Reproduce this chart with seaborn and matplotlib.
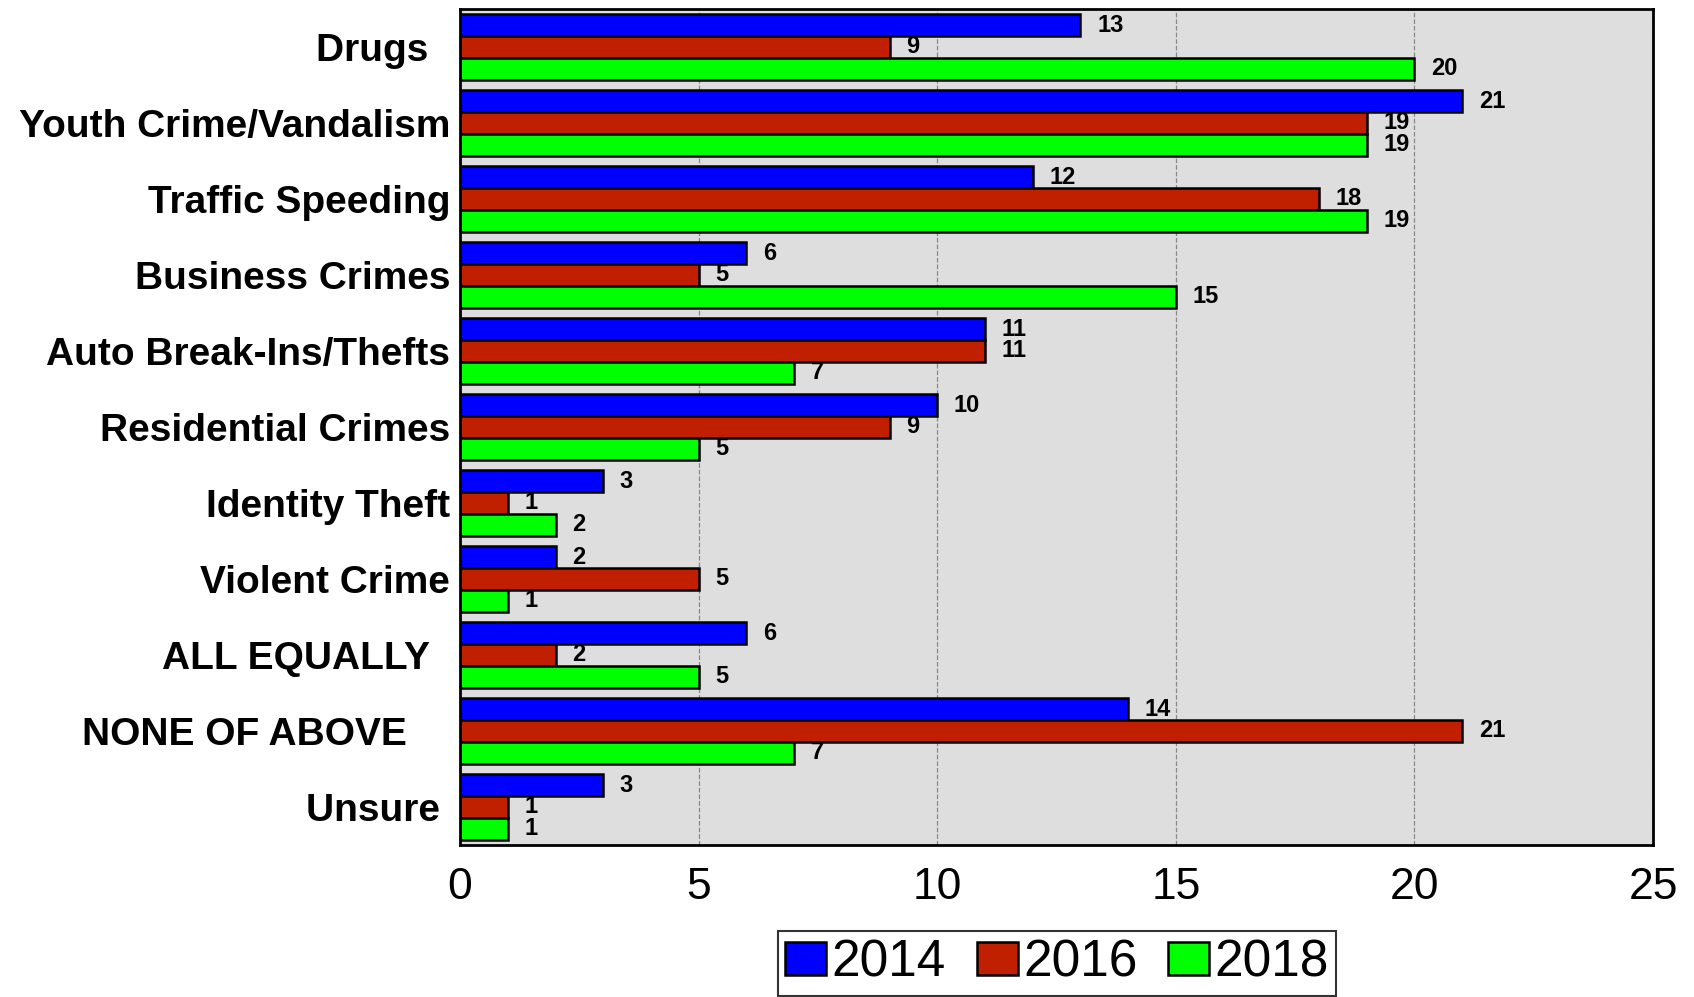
import pandas as pd
import matplotlib
matplotlib.use('Agg')
import matplotlib.pyplot as plt
import seaborn as sns

categories = ['Drugs  ', 'Youth Crime/Vandalism', 'Traffic Speeding', 'Business Crimes',
              'Auto Break-Ins/Thefts', 'Residential Crimes', 'Identity Theft', 'Violent Crime',
              'ALL EQUALLY  ', 'NONE OF ABOVE    ', 'Unsure ']
years = ['2014', '2016', '2018']
vals_2014 = [13, 21, 12, 6, 11, 10, 3, 2, 6, 14, 3]
vals_2016 = [9, 19, 18, 5, 11, 9, 1, 5, 2, 21, 1]
vals_2018 = [20, 19, 19, 15, 7, 5, 2, 1, 5, 7, 1]
colores = ['#0000FF', '#C02000', '#00FF00']

df = pd.DataFrame({'categoria': categories * 3,
                   'ano': [a for a in years for _ in categories],
                   'valor': vals_2014 + vals_2016 + vals_2018})

sns.set_style('white')
plt.rcParams['font.family'] = ['Liberation Sans', 'DejaVu Sans']
plt.rcParams['text.color'] = 'black'
plt.rcParams['xtick.color'] = 'black'
plt.rcParams['ytick.color'] = 'black'

fig = plt.figure(figsize=(16.94, 9.97), dpi=100)
ax = fig.add_axes([0.2716, 0.1525, 0.7042, 0.8385])
ax.set_facecolor('#DEDEDE')

sns.barplot(data=df, y='categoria', x='valor', hue='ano', orient='h',
            palette=colores, saturation=1, width=0.86, gap=0, edgecolor='black',
            linewidth=1.8, ax=ax, legend=True)

for cont in ax.containers:
    ax.bar_label(cont, padding=12, fontsize=17, fontweight='bold', color='black')

ax.set_xlim(0, 25)
ax.set_xticks([0, 5, 10, 15, 20, 25])
ax.xaxis.grid(True, linestyle='--', color='#888888', linewidth=0.9)
ax.set_axisbelow(True)
ax.tick_params(axis='x', labelsize=32, pad=16, length=0)
ax.tick_params(axis='y', labelsize=28, length=0, pad=7)
for t in ax.get_yticklabels():
    t.set_fontweight('bold')
ax.set_xlabel('')
ax.set_ylabel('')
for s in ax.spines.values():
    s.set_visible(True)
    s.set_color('black')
    s.set_linewidth(2)

handles, labels = ax.get_legend_handles_labels()
ax.legend_.remove()
leg = fig.legend(handles, labels, loc='upper center', bbox_to_anchor=(0.624, 0.066),
                 ncol=3, fontsize=37, frameon=True, fancybox=False, edgecolor='black',
                 handlelength=0.8, handleheight=0.6, handletextpad=0.1, columnspacing=0.6,
                 borderpad=0.15, borderaxespad=0)
leg.get_frame().set_linewidth(1.5)

plt.savefig('out.png', dpi=100)
plt.close()
